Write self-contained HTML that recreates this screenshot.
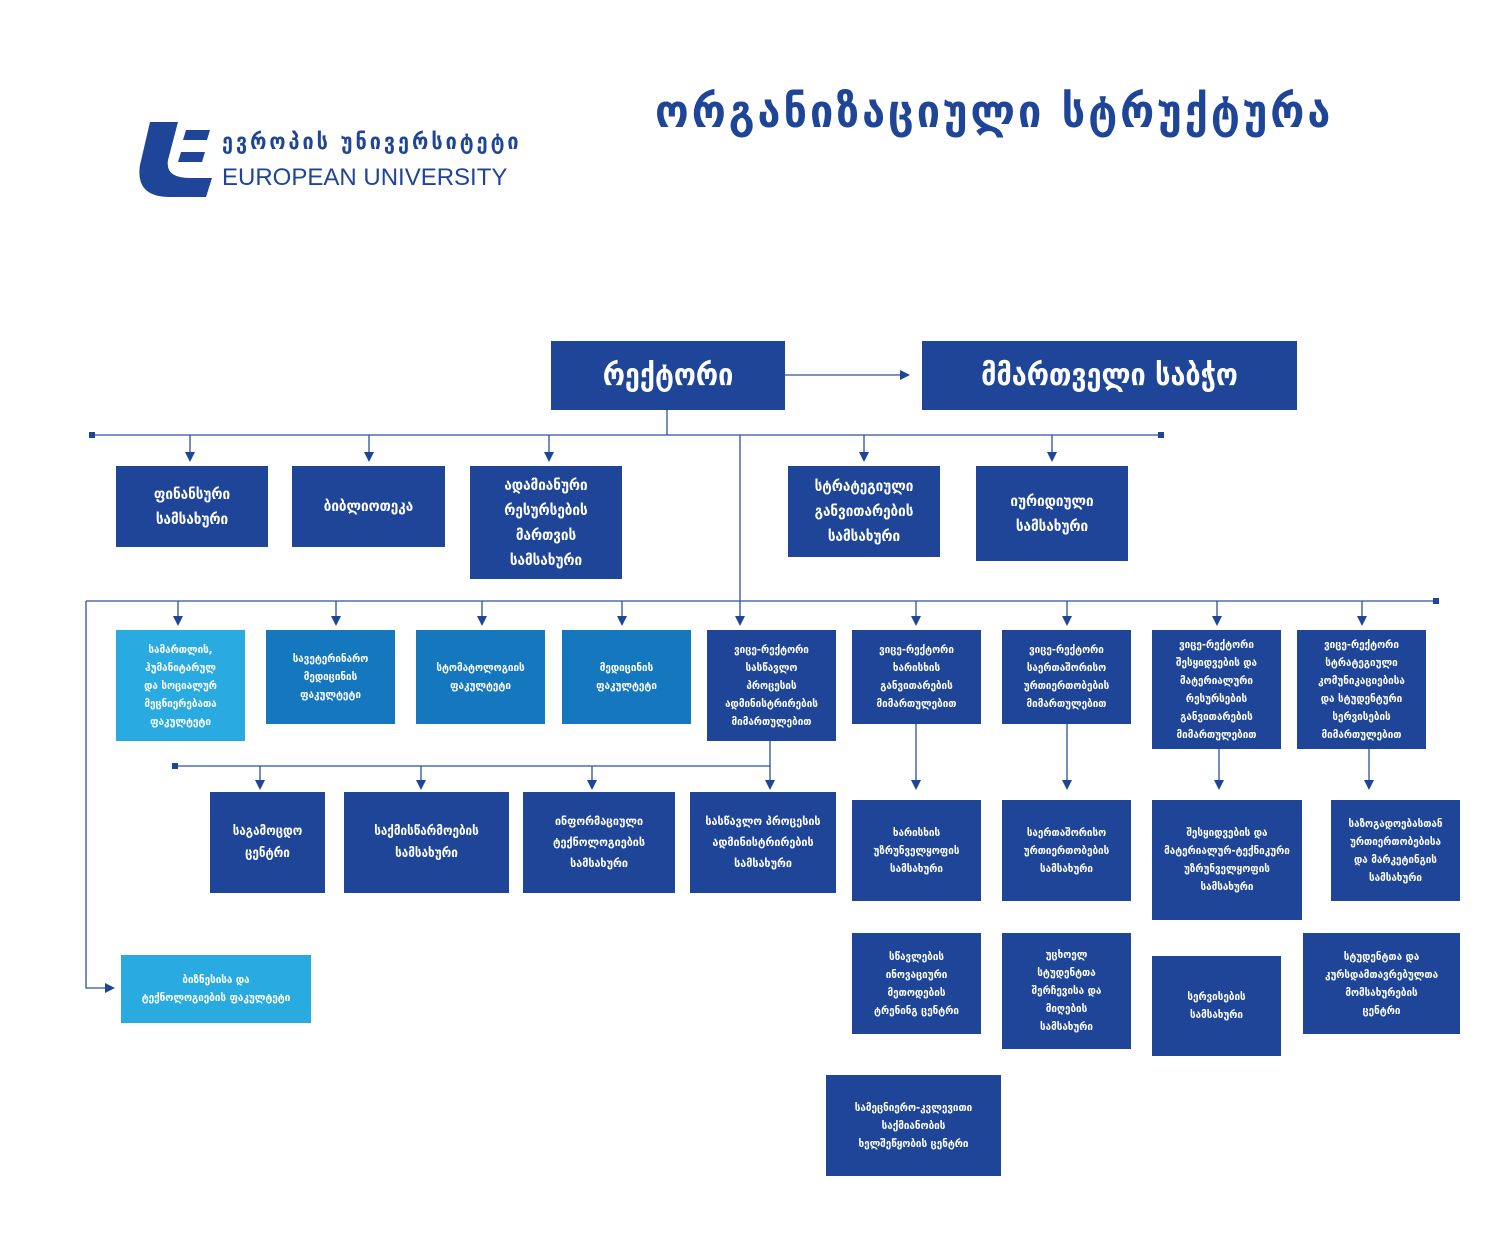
<!DOCTYPE html>
<html><head><meta charset="utf-8"><style>
body{margin:0;width:1490px;height:1260px;background:#fff;position:relative;overflow:hidden;font-family:"DejaVu Sans Condensed","DejaVu Sans","Liberation Sans",sans-serif;}
.b{position:absolute;display:flex;align-items:center;justify-content:center;text-align:center;color:#fff;background:#1e4598;box-sizing:border-box;padding:2px;font-size:11px;line-height:18px;font-weight:bold;white-space:nowrap;}
.l{background:#29abe2}.m{background:#1578be}
.r1{font-size:15px;line-height:25px}
svg{position:absolute;left:0;top:0}
</style></head><body>
<svg width="1490" height="1260">
<defs><marker id="a" markerWidth="10" markerHeight="10" refX="5" refY="5" orient="auto" markerUnits="userSpaceOnUse"><path d="M0,0 L10,5 L0,10 z" fill="#1e4598"/></marker></defs>
<g stroke="#2a52a3" stroke-width="1.3" fill="none">
<path d="M785,375 H905" marker-end="url(#a)"/>
<path d="M667,410 V435 M92,435 H1161"/>
<path d="M190,435 V457" marker-end="url(#a)"/>
<path d="M369,435 V457" marker-end="url(#a)"/>
<path d="M549,435 V457" marker-end="url(#a)"/>
<path d="M864,435 V457" marker-end="url(#a)"/>
<path d="M1052,435 V457" marker-end="url(#a)"/>
<path d="M740,435 V621" marker-end="url(#a)"/>
<path d="M86,601 H1436"/>
<path d="M178,601 V621" marker-end="url(#a)"/>
<path d="M336,601 V621" marker-end="url(#a)"/>
<path d="M482,601 V621" marker-end="url(#a)"/>
<path d="M622,601 V621" marker-end="url(#a)"/>
<path d="M916,601 V621" marker-end="url(#a)"/>
<path d="M1067,601 V621" marker-end="url(#a)"/>
<path d="M1217,601 V621" marker-end="url(#a)"/>
<path d="M1362,601 V621" marker-end="url(#a)"/>
<path d="M86,601 V988 H110" marker-end="url(#a)"/>
<path d="M770,741 V766 H175"/>
<path d="M260,766 V785" marker-end="url(#a)"/>
<path d="M421,766 V785" marker-end="url(#a)"/>
<path d="M592,766 V785" marker-end="url(#a)"/>
<path d="M770,766 V785" marker-end="url(#a)"/>
<path d="M916,724 V785" marker-end="url(#a)"/>
<path d="M1067,724 V785" marker-end="url(#a)"/>
<path d="M1219,749 V785" marker-end="url(#a)"/>
<path d="M1369,749 V785" marker-end="url(#a)"/>
</g>
<rect x="89" y="432" width="6" height="6" fill="#1e4598"/><rect x="1158" y="432" width="6" height="6" fill="#1e4598"/>
<rect x="1433" y="598" width="6" height="6" fill="#1e4598"/><rect x="172" y="763" width="6" height="6" fill="#1e4598"/>
<path d="M150,122 H178 L168,160 Q165,178 190,178 H212 L206,197 H170 Q135,197 140,165 Z" fill="#1e4598"/>
<path d="M186,130 H210 L207,140 H183 Z M181,152 H205 L202,162 H178 Z" fill="#1e4598"/>
</svg>
<div style="position:absolute;left:222px;top:130px;color:#1e4598;font-size:22px;font-weight:bold;letter-spacing:3px;white-space:nowrap">ევროპის უნივერსიტეტი</div>
<div style="position:absolute;left:222px;top:164px;color:#1e4598;font-size:24px;font-family:'Liberation Sans',sans-serif;white-space:nowrap">EUROPEAN UNIVERSITY</div>
<div style="position:absolute;left:655px;top:84px;color:#1e4598;font-size:46px;font-weight:bold;letter-spacing:3px;white-space:nowrap">ორგანიზაციული სტრუქტურა</div>

<div class="b" style="left:551px;top:341px;width:234px;height:69px;font-size:30px;line-height:36px">რექტორი</div>
<div class="b" style="left:922px;top:341px;width:375px;height:69px;font-size:30px;line-height:36px">მმართველი საბჭო</div>

<div class="b r1" style="left:116px;top:466px;width:152px;height:81px">ფინანსური<br>სამსახური</div>
<div class="b r1" style="left:292px;top:466px;width:153px;height:81px">ბიბლიოთეკა</div>
<div class="b r1" style="left:470px;top:466px;width:152px;height:113px">ადამიანური<br>რესურსების<br>მართვის<br>სამსახური</div>
<div class="b r1" style="left:788px;top:466px;width:152px;height:91px">სტრატეგიული<br>განვითარების<br>სამსახური</div>
<div class="b r1" style="left:976px;top:466px;width:152px;height:95px">იურიდიული<br>სამსახური</div>

<div class="b l" style="left:116px;top:630px;width:129px;height:111px">სამართლის,<br>ჰუმანიტარულ<br>და სოციალურ<br>მეცნიერებათა<br>ფაკულტეტი</div>
<div class="b m" style="left:266px;top:630px;width:129px;height:94px">სავეტერინარო<br>მედიცინის<br>ფაკულტეტი</div>
<div class="b m" style="left:416px;top:630px;width:129px;height:94px">სტომატოლოგიის<br>ფაკულტეტი</div>
<div class="b m" style="left:562px;top:630px;width:129px;height:94px">მედიცინის<br>ფაკულტეტი</div>
<div class="b" style="left:707px;top:630px;width:129px;height:111px">ვიცე-რექტორი<br>სასწავლო<br>პროცესის<br>ადმინისტრირების<br>მიმართულებით</div>
<div class="b" style="left:852px;top:630px;width:129px;height:94px">ვიცე-რექტორი<br>ხარისხის<br>განვითარების<br>მიმართულებით</div>
<div class="b" style="left:1002px;top:630px;width:129px;height:94px">ვიცე-რექტორი<br>საერთაშორისო<br>ურთიერთობების<br>მიმართულებით</div>
<div class="b" style="left:1152px;top:630px;width:129px;height:119px">ვიცე-რექტორი<br>შესყიდვების და<br>მატერიალური<br>რესურსების<br>განვითარების<br>მიმართულებით</div>
<div class="b" style="left:1297px;top:630px;width:129px;height:119px">ვიცე-რექტორი<br>სტრატეგიული<br>კომუნიკაციებისა<br>და სტუდენტური<br>სერვისების<br>მიმართულებით</div>

<div class="b" style="left:210px;top:792px;width:115px;height:101px;font-size:13px;line-height:22px">საგამოცდო<br>ცენტრი</div>
<div class="b" style="left:344px;top:792px;width:165px;height:101px;font-size:13px;line-height:22px">საქმისწარმოების<br>სამსახური</div>
<div class="b" style="left:523px;top:792px;width:152px;height:101px;font-size:12px;line-height:21px">ინფორმაციული<br>ტექნოლოგიების<br>სამსახური</div>
<div class="b" style="left:690px;top:792px;width:146px;height:101px;font-size:12px;line-height:21px">სასწავლო პროცესის<br>ადმინისტრირების<br>სამსახური</div>
<div class="b" style="left:852px;top:800px;width:129px;height:101px">ხარისხის<br>უზრუნველყოფის<br>სამსახური</div>
<div class="b" style="left:1002px;top:800px;width:129px;height:101px">საერთაშორისო<br>ურთიერთობების<br>სამსახური</div>
<div class="b" style="left:1152px;top:800px;width:150px;height:120px">შესყიდვების და<br>მატერიალურ-ტექნიკური<br>უზრუნველყოფის<br>სამსახური</div>
<div class="b" style="left:1331px;top:800px;width:129px;height:101px">საზოგადოებასთან<br>ურთიერთობებისა<br>და მარკეტინგის<br>სამსახური</div>

<div class="b" style="left:852px;top:933px;width:129px;height:101px">სწავლების<br>ინოვაციური<br>მეთოდების<br>ტრენინგ ცენტრი</div>
<div class="b" style="left:1002px;top:933px;width:129px;height:116px">უცხოელ<br>სტუდენტთა<br>შერჩევისა და<br>მიღების<br>სამსახური</div>
<div class="b" style="left:1152px;top:956px;width:129px;height:100px">სერვისების<br>სამსახური</div>
<div class="b" style="left:1303px;top:933px;width:157px;height:101px">სტუდენტთა და<br>კურსდამთავრებულთა<br>მომსახურების<br>ცენტრი</div>
<div class="b" style="left:826px;top:1075px;width:175px;height:101px">სამეცნიერო-კვლევითი<br>საქმიანობის<br>ხელშეწყობის ცენტრი</div>
<div class="b l" style="left:121px;top:955px;width:190px;height:68px">ბიზნესისა და<br>ტექნოლოგიების ფაკულტეტი</div>
</body></html>
